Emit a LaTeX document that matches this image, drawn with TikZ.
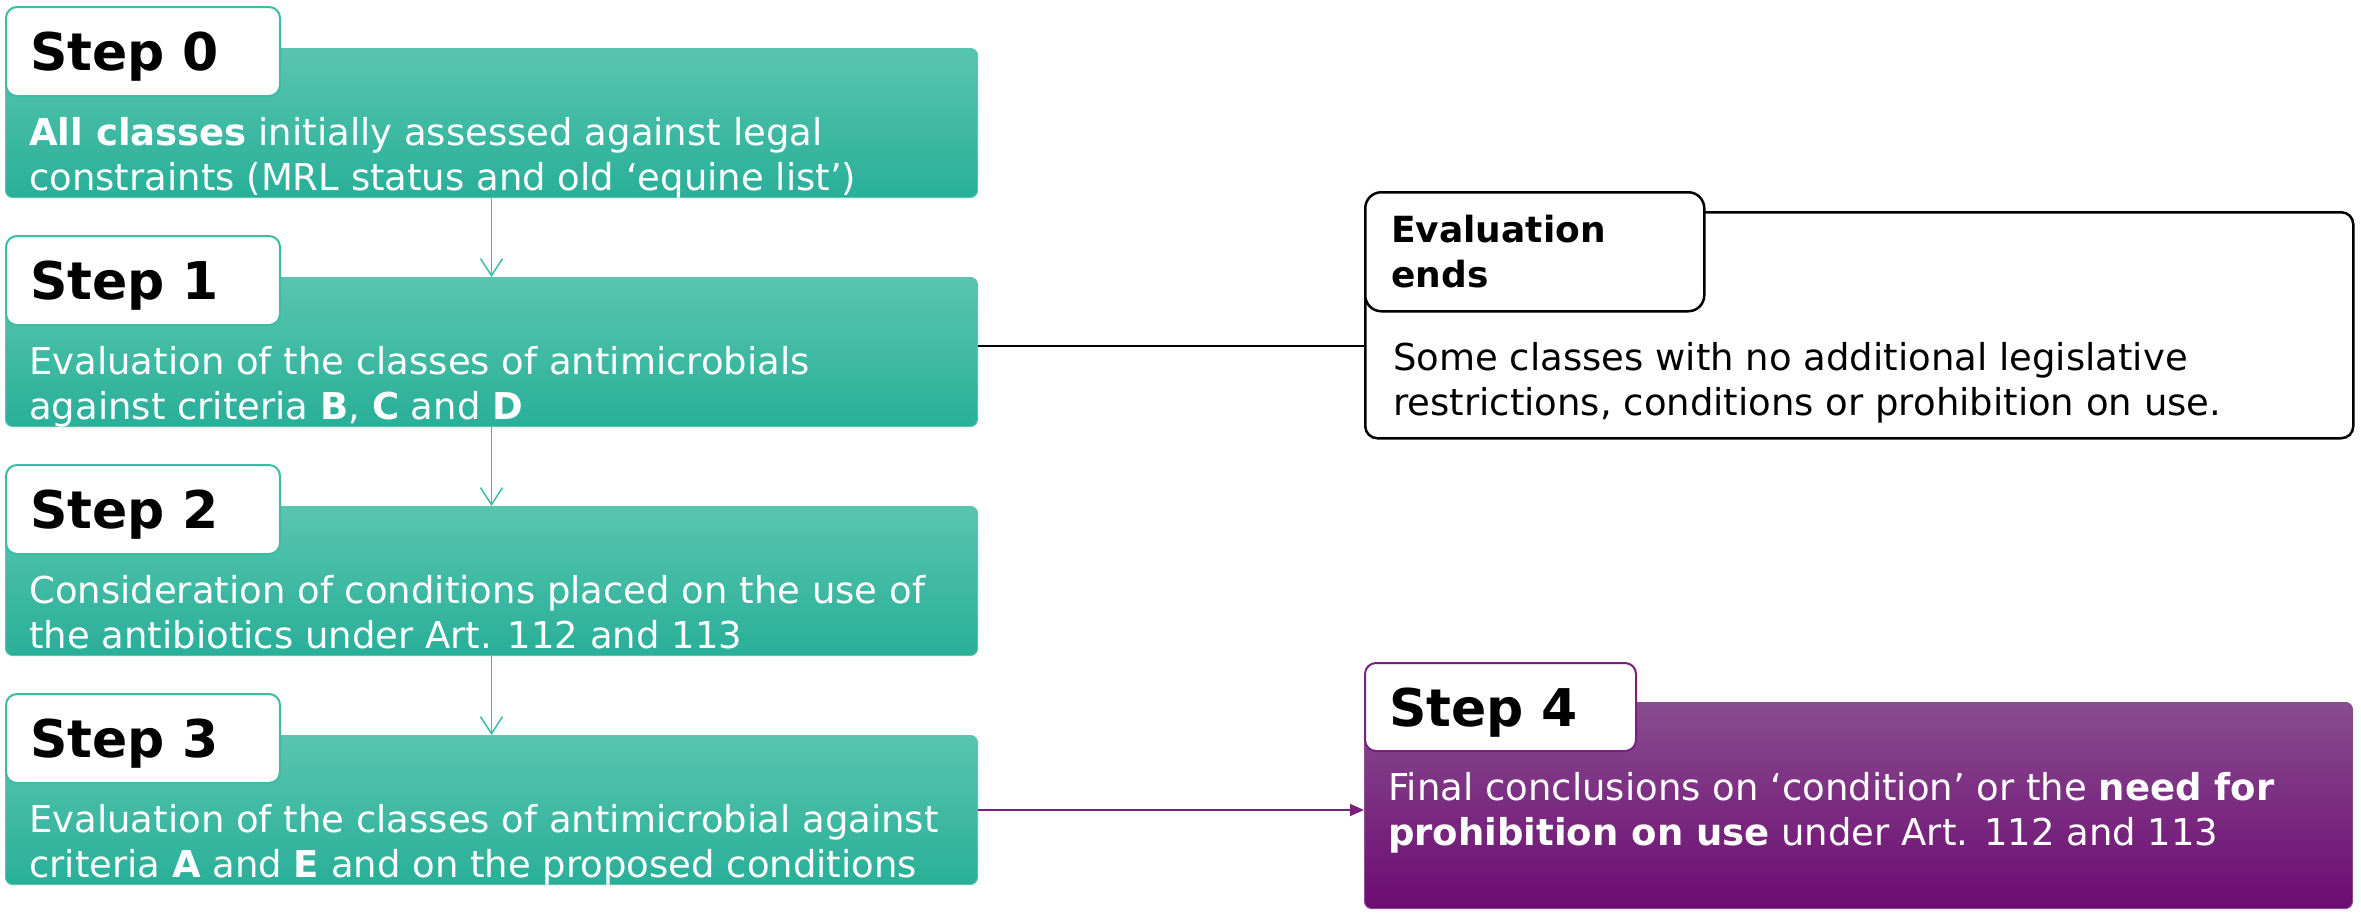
\documentclass[tikz,border=0pt]{standalone}
\usepackage{fontspec}
\setmainfont{DejaVu Sans}
\usetikzlibrary{positioning,arrows.meta}

\definecolor{tealtop}{HTML}{58C5AF}
\definecolor{tealbot}{HTML}{29AF98}
\definecolor{tealline}{HTML}{3BBCA3}
\definecolor{plumtop}{HTML}{894C8F}
\definecolor{plumbot}{HTML}{6C0C72}
\definecolor{plumline}{HTML}{7A2180}

\tikzset{
  stepbox/.style={anchor=north west, inner sep=0pt, rounded corners=7pt,
    top color=tealtop, bottom color=tealbot, draw=tealtop, line width=1pt,
    minimum width=972pt, minimum height=149pt},
  steptab/.style={anchor=north west, inner xsep=24pt, inner ysep=0pt,
    rounded corners=11pt, fill=white, draw=tealline, line width=2pt,
    text width=226pt, minimum height=89pt, text depth=0pt, align=left,
    font=\fontsize{52}{60}\selectfont\bfseries},
  steptext/.style={anchor=north west, inner sep=0pt, align=left, text=white,
    font=\fontsize{37}{45}\selectfont},
  endbox/.style={anchor=north west, inner sep=0pt, rounded corners=12pt,
    fill=white, draw=black, line width=2.5pt,
    minimum width=988pt, minimum height=226pt},
  endtab/.style={anchor=north west, inner xsep=26pt, inner ysep=0pt,
    rounded corners=16pt, fill=white, draw=black, line width=2.5pt,
    text width=287pt, minimum height=119pt, align=left,
    font=\fontsize{36}{45}\selectfont\bfseries},
  endtext/.style={anchor=north west, inner sep=0pt, align=left,
    font=\fontsize{37}{45}\selectfont},
  finalbox/.style={stepbox, top color=plumtop, bottom color=plumbot,
    draw=plumtop, minimum width=988pt, minimum height=206pt},
  finaltab/.style={steptab, draw=plumline, text width=223pt, minimum height=88pt},
  flowarrow/.style={draw=tealline, line width=1.5pt,
    -{Straight Barb[length=17pt,width=22pt]}},
  plumarrow/.style={draw=plumline, line width=1.5pt,
    -{Triangle[length=14pt,width=12pt]}}
}

\begin{document}
\begin{tikzpicture}[x=1pt, y=-1pt]
  \useasboundingbox (0,0) rectangle (2361,913);

  % step 0
  \node[stepbox] (s0box) at (5,48) {};
  \node[steptab] (s0tab) at (5,6) {Step 0};
  \node[steptext, below right=20pt and 24pt of s0tab.south west] (s0text)
    {\textbf{All classes} initially assessed against legal\\
     constraints (MRL status and old ‘equine list’)};

  % step 1
  \node[stepbox] (s1box) at (5,277) {};
  \node[steptab] (s1tab) at (5,235) {Step 1};
  \node[steptext, below right=20pt and 24pt of s1tab.south west] (s1text)
    {Evaluation of the classes of antimicrobials\\
     against criteria \textbf{B}, \textbf{C} and \textbf{D}};

  % step 2
  \node[stepbox] (s2box) at (5,506) {};
  \node[steptab] (s2tab) at (5,464) {Step 2};
  \node[steptext, below right=20pt and 24pt of s2tab.south west] (s2text)
    {Consideration of conditions placed on the use of\\
     the antibiotics under Art. 112 and 113};

  % step 3
  \node[stepbox] (s3box) at (5,735) {};
  \node[steptab] (s3tab) at (5,693) {Step 3};
  \node[steptext, below right=20pt and 24pt of s3tab.south west] (s3text)
    {Evaluation of the classes of antimicrobial against\\
     criteria \textbf{A} and \textbf{E} and on the proposed conditions};

  % evaluation ends
  \node[endbox] (endbox) at (1364,211) {};
  \node[endtab] (endtab) at (1364,191) {Evaluation\\ends};
  \node[endtext, below right=30pt and 29pt of endtab.south west] (endtext)
    {Some classes with no additional legislative\\
     restrictions, conditions or prohibition on use.};

  % step 4
  \node[finalbox] (s4box) at (1364,702) {};
  \node[finaltab] (s4tab) at (1364,662) {Step 4};
  \node[steptext, below right=20pt and 24pt of s4tab.south west] (s4text)
    {Final conclusions on ‘condition’ or the \textbf{need for}\\
     \textbf{prohibition on use} under Art. 112 and 113};

  % connectors
  \draw[flowarrow] (s0box.south) -- (s1box.north);
  \draw[flowarrow] (s1box.south) -- (s2box.north);
  \draw[flowarrow] (s2box.south) -- (s3box.north);
  \draw[line width=1.5pt] ([yshift=6pt]s1box.east) -- ([yshift=6pt]s1box.east -| endbox.west);
  \draw[plumarrow] (s3box.east) -- (s3box.east -| s4box.west);
\end{tikzpicture}
\end{document}
